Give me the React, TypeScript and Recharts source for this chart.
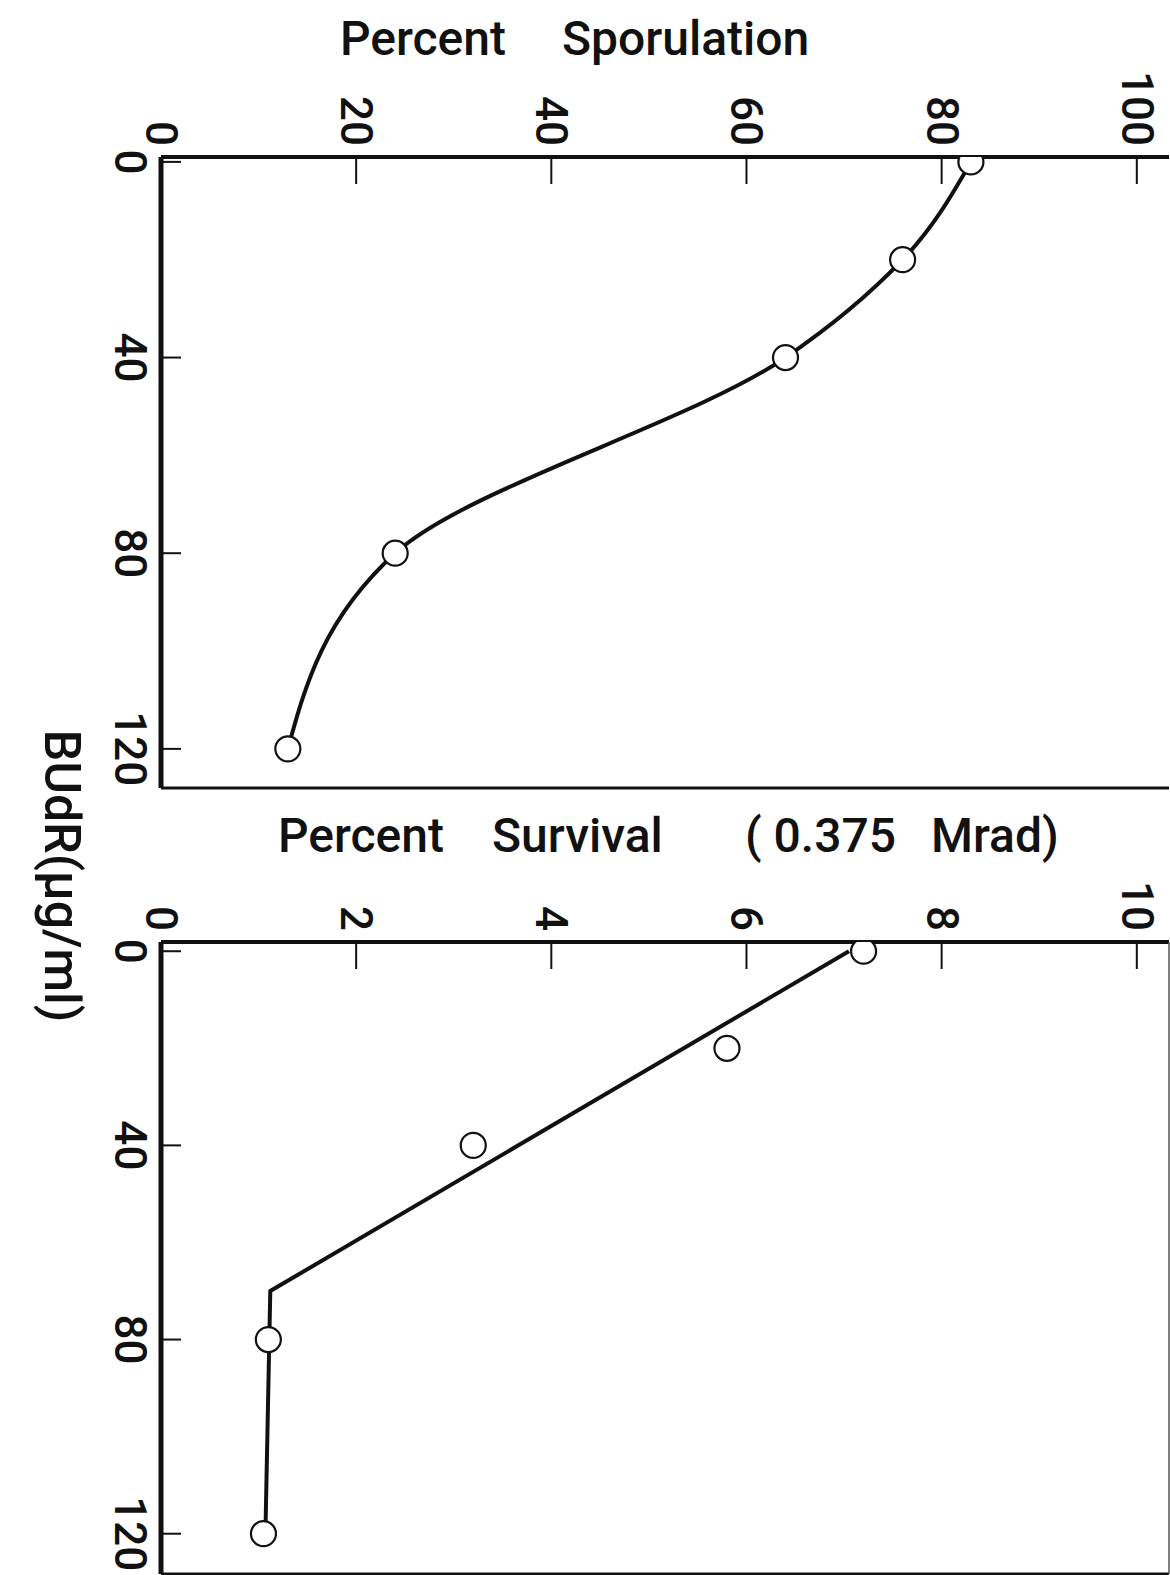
import React from "react";
import { ComposedChart, Line, XAxis, YAxis } from "recharts";

// BUdR dose (µg/ml) vs percent sporulation
const sporBudr = [0, 20, 40, 80, 120];
const sporPct = [83, 76, 64, 24, 13];

// BUdR dose vs percent survival (0.375 Mrad)
const survBudr = [0, 20, 40, 80, 120];
const survPct = [7.2, 5.8, 3.2, 1.1, 1.05];

// hand-fitted line through the survival points
const fitBudr = [0, 70, 120];
const fitPct = [7.05, 1.12, 1.07];

const sporTicks = [0, 20, 40, 60, 80, 100];
const survTicks = [0, 2, 4, 6, 8, 10];
const budrTicks = [0, 40, 80, 120];

const sporData = sporBudr.map((b, i) => ({ budr: b, pct: sporPct[i] }));
const survData = survBudr.map((b, i) => ({ budr: b, pct: survPct[i] }));
const fitData = fitBudr.map((b, i) => ({ budr: b, pct: fitPct[i] }));

const INK = "#111";
const FONT = "Roboto, 'Liberation Sans', sans-serif";
const LEFT = 162;

const openDot = (p: any) => (
  <circle key={`d${p.index}`} cx={p.cx} cy={p.cy} r={12.5} fill="#fff" stroke={INK} strokeWidth={2.2} />
);

const topTick = (plotTop: number) => (p: any) => (
  <text
    x={p.x}
    y={plotTop - 12}
    transform={`rotate(90, ${p.x}, ${plotTop - 12})`}
    textAnchor="end"
    dominantBaseline="central"
    fontSize={44}
    fontFamily={FONT}
    fontWeight={500}
    fill={INK}
  >
    {p.payload.value}
  </text>
);

const leftTick = (p: any) => (
  <text
    x={LEFT - 32}
    y={p.y}
    transform={`rotate(90, ${LEFT - 32}, ${p.y})`}
    textAnchor="middle"
    dominantBaseline="central"
    fontSize={44}
    fontFamily={FONT}
    fontWeight={500}
    fill={INK}
  >
    {p.payload.value}
  </text>
);

function Panel({
  height,
  top,
  bottom,
  xDomain,
  xTicks,
  yDomain,
  rightBorder,
  children,
}: {
  height: number;
  top: number;
  bottom: number;
  xDomain: [number, number];
  xTicks: number[];
  yDomain: [number, number];
  rightBorder: boolean;
  children: React.ReactNode;
}) {
  // axes get a 1px band (a 0px axis is not drawn), so margins give that pixel back
  const margin = { top: top - 1, right: 1, bottom: bottom - 1, left: LEFT - 1 };
  return (
    <ComposedChart width={1170} height={height} layout="vertical" margin={margin}>
      <XAxis
        xAxisId="top"
        orientation="top"
        type="number"
        domain={xDomain}
        ticks={xTicks}
        allowDataOverflow
        height={1}
        mirror
        tickSize={27}
        axisLine={{ stroke: INK, strokeWidth: 4 }}
        tickLine={{ stroke: INK, strokeWidth: 2 }}
        tick={topTick(top)}
        interval={0}
      />
      <XAxis
        xAxisId="bot"
        orientation="bottom"
        type="number"
        domain={xDomain}
        ticks={xTicks}
        allowDataOverflow
        height={1}
        mirror
        tickSize={25}
        axisLine={{ stroke: INK, strokeWidth: 3 }}
        tickLine={{ stroke: INK, strokeWidth: 2 }}
        tick={false}
        interval={0}
      />
      <YAxis
        yAxisId="left"
        orientation="left"
        type="number"
        dataKey="budr"
        domain={yDomain}
        ticks={budrTicks}
        allowDataOverflow
        width={1}
        mirror
        tickSize={20}
        axisLine={{ stroke: INK, strokeWidth: 5 }}
        tickLine={{ stroke: INK, strokeWidth: 2 }}
        tick={leftTick}
        interval={0}
      />
      <YAxis
        yAxisId="right"
        orientation="right"
        type="number"
        dataKey="budr"
        domain={yDomain}
        ticks={budrTicks}
        allowDataOverflow
        width={1}
        mirror
        tickSize={20}
        axisLine={rightBorder ? { stroke: "#555", strokeWidth: 1.5 } : false}
        tickLine={{ stroke: INK, strokeWidth: 2 }}
        tick={false}
        interval={0}
      />
      {children}
    </ComposedChart>
  );
}

export default function App() {
  return (
    <div style={{ position: "absolute", left: 0, top: 0, width: 1170, height: 1575, background: "#fff", overflow: "hidden" }}>
      <div style={{ position: "absolute", left: 0, top: 0 }}>
        <Panel height={800} top={158} bottom={13} xDomain={[0, 103.3]} xTicks={sporTicks} yDomain={[-1, 128]} rightBorder={false}>
          <Line
            xAxisId="top"
            yAxisId="left"
            data={sporData}
            dataKey="pct"
            type="monotone"
            stroke={INK}
            strokeWidth={4}
            dot={openDot}
            activeDot={false}
            isAnimationActive={false}
          />
        </Panel>
      </div>
      <div style={{ position: "absolute", left: 0, top: 800 }}>
        <Panel height={775} top={143} bottom={2} xDomain={[0, 10.33]} xTicks={survTicks} yDomain={[-1.9, 128.3]} rightBorder={true}>
          <Line
            xAxisId="top"
            yAxisId="left"
            data={fitData}
            dataKey="pct"
            type="linear"
            stroke={INK}
            strokeWidth={4}
            dot={false}
            activeDot={false}
            isAnimationActive={false}
          />
          <Line
            xAxisId="top"
            yAxisId="left"
            data={survData}
            dataKey="pct"
            type="linear"
            stroke="none"
            dot={openDot}
            activeDot={false}
            isAnimationActive={false}
          />
        </Panel>
      </div>
      <svg width={1170} height={1575} style={{ position: "absolute", left: 0, top: 0, pointerEvents: "none" }}>
        <text y={55} fontSize={48} fontFamily={FONT} fontWeight={500} fill={INK}>
          <tspan x={340}>Percent</tspan>
          <tspan x={562}>Sporulation</tspan>
        </text>
        <text y={852} fontSize={48} fontFamily={FONT} fontWeight={500} fill={INK}>
          <tspan x={278}>Percent</tspan>
          <tspan x={492}>Survival</tspan>
          <tspan x={745}>( 0.375</tspan>
          <tspan x={931}>Mrad)</tspan>
        </text>
        <text
          x={62}
          y={876}
          transform="rotate(90, 62, 876)"
          textAnchor="middle"
          dominantBaseline="central"
          fontSize={50}
          fontFamily={FONT}
          fontWeight={500}
          fill={INK}
        >
          BUdR(µg/ml)
        </text>
      </svg>
    </div>
  );
}
